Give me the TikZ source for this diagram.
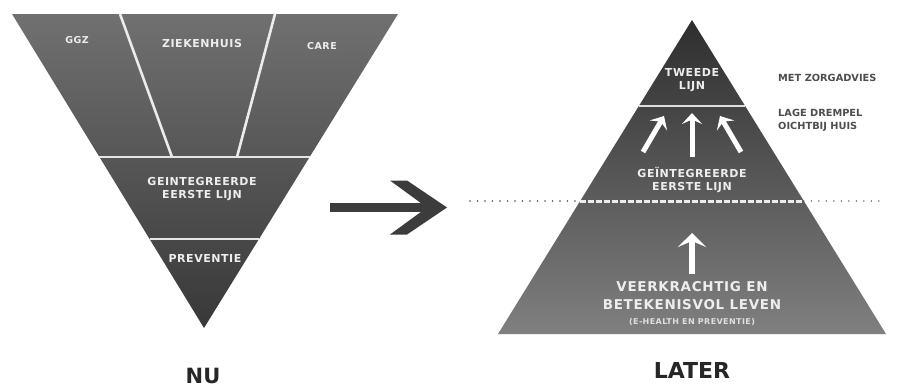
\documentclass[tikz,border=0pt]{standalone}
\usepackage{fontspec}
\setmainfont{DejaVu Sans}
\newfontfamily\lblfont[LetterSpace=5]{DejaVu Sans}
\usetikzlibrary{arrows.meta,calc}
\definecolor{txtw}{HTML}{EDEDED}
\definecolor{txtd}{HTML}{3A3A3A}
\definecolor{arrd}{HTML}{3C3C3C}
\tikzset{
  lbl/.style={font=\lblfont\bfseries\fontsize{11}{12}\selectfont, text=txtw, align=center, inner sep=0pt},
  big/.style={font=\lblfont\bfseries\fontsize{13.5}{18}\selectfont, text=txtw, align=center, inner sep=0pt},
  sidelbl/.style={font=\bfseries\fontsize{9.8}{13}\selectfont, text=txtd!90, align=left, anchor=west, inner sep=0pt},
  title/.style={font=\bfseries\fontsize{22}{24}\selectfont, text=black!85, inner sep=0pt},
  upar/.style={draw=white, line width=5pt, -{Stealth[width=20pt,length=11pt,inset=4.5pt]}},
  divline/.style={draw=white!85!gray, line width=2.6pt},
  sepline/.style={draw=white!80!gray, line width=1.6pt}
}
\begin{document}
\begin{tikzpicture}[x=1pt,y=-1pt]
\useasboundingbox[fill=white] (0,0) rectangle (901,388);
% ---------- left (NU) inverted triangle ----------
\coordinate (LA) at (12,14);
\coordinate (LB) at (398,14);
\coordinate (LC) at (204,328);
\shade[top color=black!56, bottom color=black!78] (LA) -- (LB) -- (LC) -- cycle;
\draw[divline] (120,14) -- (172,157);
\draw[divline] (275,14) -- (237,157);
\draw[sepline] ($(LA)!143/314!(LC)$) -- ($(LB)!143/314!(LC)$);
\draw[sepline, line width=1.1pt] ($(LA)!225/314!(LC)$) -- ($(LB)!225/314!(LC)$);
\node[lbl, font=\lblfont\bfseries\fontsize{9.5}{11}\selectfont] (ggz) at (77,40) {GGZ};
\node[lbl] (zh) at (202,43) {ZIEKENHUIS};
\node[lbl, font=\lblfont\bfseries\fontsize{9.5}{11}\selectfont] (care) at (322,46) {CARE};
\node[lbl] (gel) at (202,189.5) {GEINTEGREERDE\\[1pt]EERSTE LIJN};
\node[lbl] (prev) at (205,258) {PREVENTIE};
\node[title, font=\bfseries\fontsize{21}{23}\selectfont] (nu) at (203,376) {NU};
% ---------- middle arrow ----------
\coordinate (ma) at (330,207.5);
\coordinate (mb) at (447,207.5);
\fill[arrd] ($(ma)+(0,-4.5)$) rectangle ($(mb)+(-16,4.5)$);
\fill[arrd] (mb) -- ++(-40,27) -- ++(-17,0) -- ++(37,-27) -- ++(-37,-27) -- ++(17,0) -- cycle;
% ---------- right (LATER) triangle ----------
\coordinate (RA) at (692,20);
\coordinate (RB) at (498,334);
\coordinate (RC) at (886,334);
\shade[top color=black!82, bottom color=black!50] (RA) -- (RB) -- (RC) -- cycle;
\draw[sepline, draw=white!75!gray] ($(RA)!86/314!(RB)$) -- ($(RA)!86/314!(RC)$);
% dotted / dashed boundary
\coordinate (d1) at (470,201);
\coordinate (d4) at (880,201);
\coordinate (d2) at ($(RA)!181/314!(RB)$);
\coordinate (d3) at ($(RA)!181/314!(RC)$);
\draw[black!70, line width=1.6pt, line cap=round, dash pattern=on 0pt off 7.5pt] (d1) -- (d2);
\draw[black!70, line width=1.6pt, line cap=round, dash pattern=on 0pt off 7.5pt] (d3) -- (d4);
\draw[white!85!gray, line width=3pt, dash pattern=on 6pt off 2pt] (d2) -- (d3);
\node[lbl] (tw) at (692,80) {TWEEDE\\[1pt]LIJN};
\node[lbl] (ger) at (692,179.5) {GEÏNTEGREERDE\\[1pt]EERSTE LIJN};
% upward arrows
\coordinate (u1a) at (643,152); \coordinate (u1b) at (664,116);
\coordinate (u2a) at (692,157); \coordinate (u2b) at (692,113);
\coordinate (u3a) at (741,152); \coordinate (u3b) at (720,116);
\draw[upar] (u1a) -- (u1b);
\draw[upar] (u2a) -- (u2b);
\draw[upar] (u3a) -- (u3b);
\coordinate (u4a) at (692,274); \coordinate (u4b) at (692,233);
\draw[upar, line width=6pt, -{Stealth[width=28pt,length=14pt,inset=6pt]}] (u4a) -- (u4b);
\node[big] (vk) at (692,296) {VEERKRACHTIG EN\\BETEKENISVOL LEVEN};
\node[lbl, font=\lblfont\bfseries\fontsize{8}{9}\selectfont, text=white!75!gray] (eh) at (692,322) {(E-HEALTH EN PREVENTIE)};
\node[sidelbl] (mz) at (778,78) {MET ZORGADVIES};
\node[sidelbl] (ld) at (778,120) {LAGE DREMPEL\\OICHTBIJ HUIS};
\node[title] (later) at (692,370) {LATER};
\end{tikzpicture}
\end{document}
